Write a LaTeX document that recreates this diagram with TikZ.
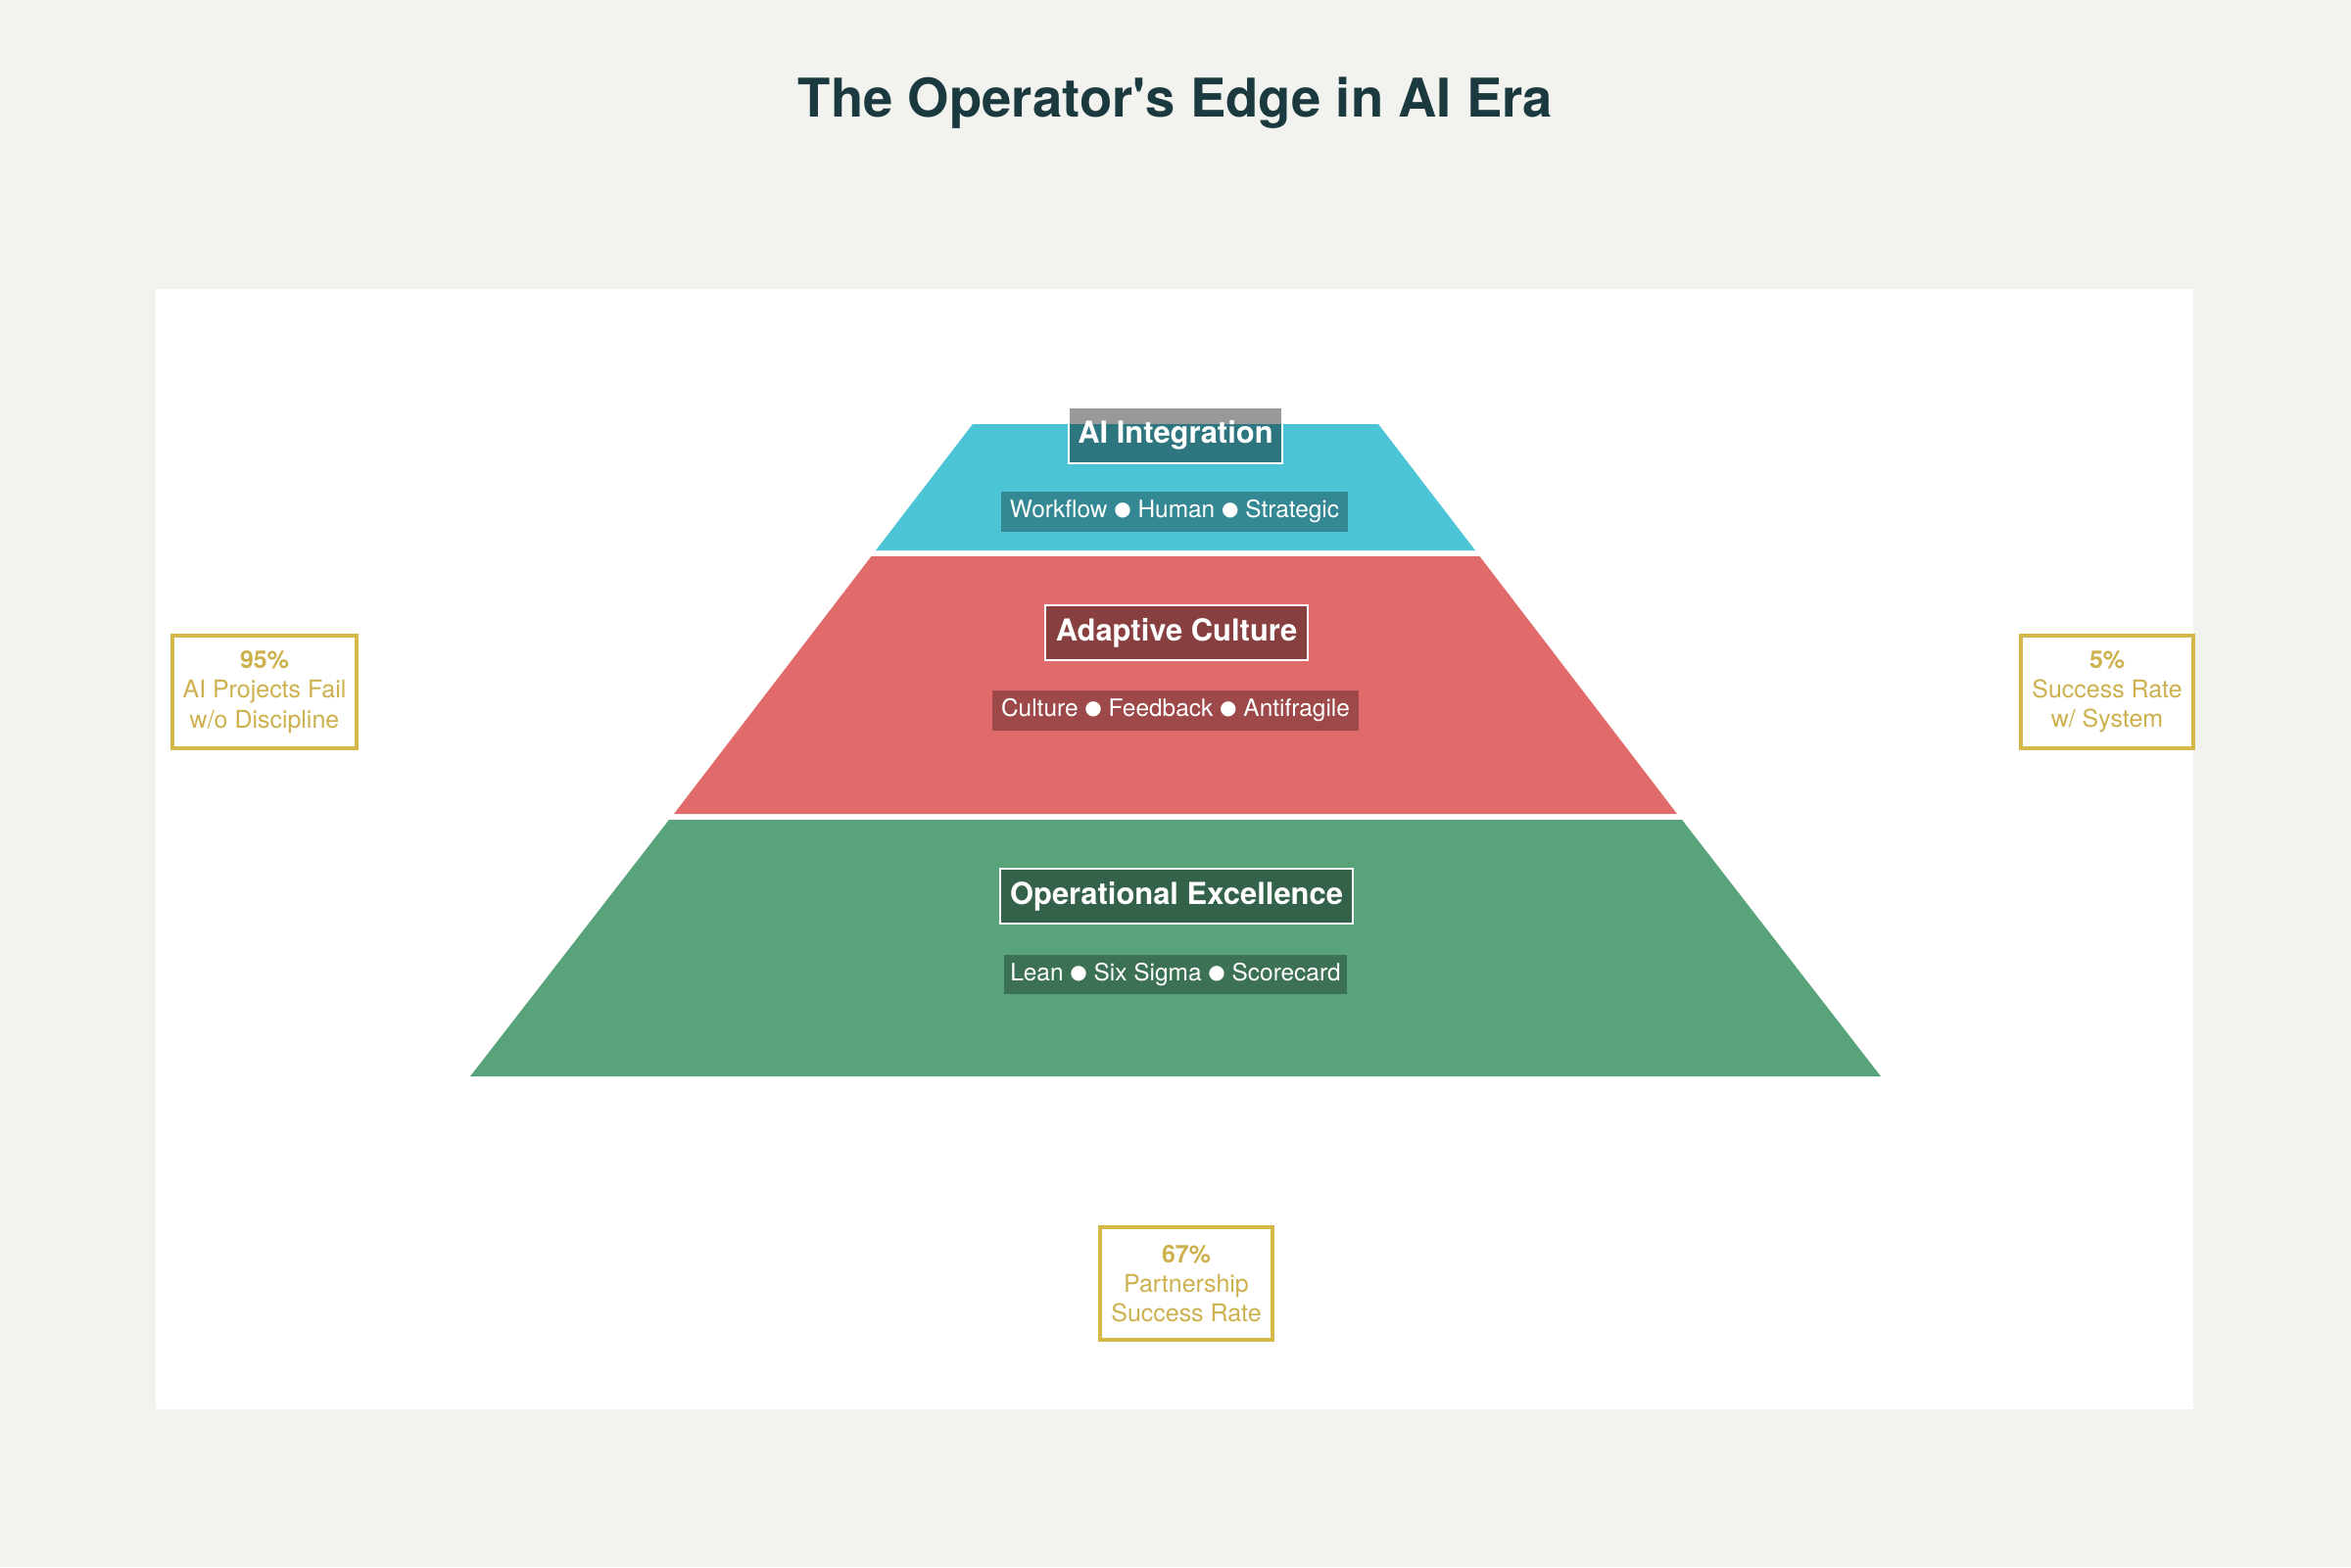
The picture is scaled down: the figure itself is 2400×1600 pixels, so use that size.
\documentclass[tikz,border=0pt]{standalone}
\usepackage{fontspec}
\setmainfont{TeX Gyre Heros}
\newfontfamily\symfont{DejaVu Sans}
\definecolor{bgc}{HTML}{F2F2EE}
\definecolor{titlec}{HTML}{1B3A3F}
\definecolor{cyanc}{HTML}{4BC4D5}
\definecolor{redc}{HTML}{E16A6A}
\definecolor{greenc}{HTML}{58A37A}
\definecolor{goldc}{HTML}{D4B84A}
\definecolor{goldt}{HTML}{CDB14E}
\newcommand\tierdot{ \raisebox{0.7pt}{\symfont\fontsize{5.7}{6}\selectfont ●} }
\tikzset{
  tiertitle/.style={draw=white, line width=0.6pt, fill=black, fill opacity=0.4, text opacity=1,
    text=white, font=\bfseries\fontsize{8.8}{10}\selectfont, inner sep=0pt, minimum height=16pt},
  tiersub/.style={fill=black, fill opacity=0.3, text opacity=1, text=white,
    font=\fontsize{6.95}{8}\selectfont, inner sep=0pt, minimum height=11.6pt},
  callout/.style={draw=goldc, line width=1.1pt, fill=white, text=goldt, align=center,
    font=\fontsize{7.1}{8.6}\selectfont, inner sep=0pt, minimum height=115*0.1mm},
  titlestyle/.style={text=titlec, font=\bfseries\fontsize{15.5}{18}\selectfont, inner sep=0pt}
}
\begin{document}
\begin{tikzpicture}[x=0.1mm,y=-0.1mm]
\fill[bgc] (0,0) rectangle (2400,1600);
\useasboundingbox (0,0) rectangle (2400,1600);
\fill[white] (159,295) rectangle (2239,1439);
% tiers
\fill[cyanc] (993,433) -- (1407,433) -- (1506,562) -- (894,562) -- cycle;
\fill[redc] (889.5,568) -- (1510.5,568) -- (1712,831) -- (688,831) -- cycle;
\fill[greenc] (683,837) -- (1717,837) -- (1920,1099) -- (480,1099) -- cycle;
% title
\node[titlestyle, anchor=base] (title) at (1200,119) {The Operator\textquotesingle s Edge in AI Era};
% tier labels
\node[tiertitle, minimum width=218*0.1mm] (t1) at (1200,444.5) {AI Integration};
\node[tiersub, minimum width=354*0.1mm] (s1) at (1199,522.5) {Workflow\tierdot Human\tierdot Strategic};
\node[tiertitle, minimum width=268*0.1mm] (t2) at (1201,646) {Adaptive Culture};
\node[tiersub, minimum width=374*0.1mm] (s2) at (1200,725.5) {Culture\tierdot Feedback\tierdot Antifragile};
\node[tiertitle, minimum width=360*0.1mm] (t3) at (1201,915) {Operational Excellence};
\node[tiersub, minimum width=350*0.1mm] (s3) at (1200,995) {Lean\tierdot Six Sigma\tierdot Scorecard};
% callouts
\node[callout, minimum width=188*0.1mm] (c1) at (270,706.5) {\textbf{95\%}\\AI Projects Fail\\w/o Discipline};
\node[callout, minimum width=176*0.1mm] (c2) at (2151,706.5) {\textbf{5\%}\\Success Rate\\w/ System};
\node[callout, minimum width=176*0.1mm] (c3) at (1211,1310.5) {\textbf{67\%}\\Partnership\\Success Rate};
\end{tikzpicture}
\end{document}
